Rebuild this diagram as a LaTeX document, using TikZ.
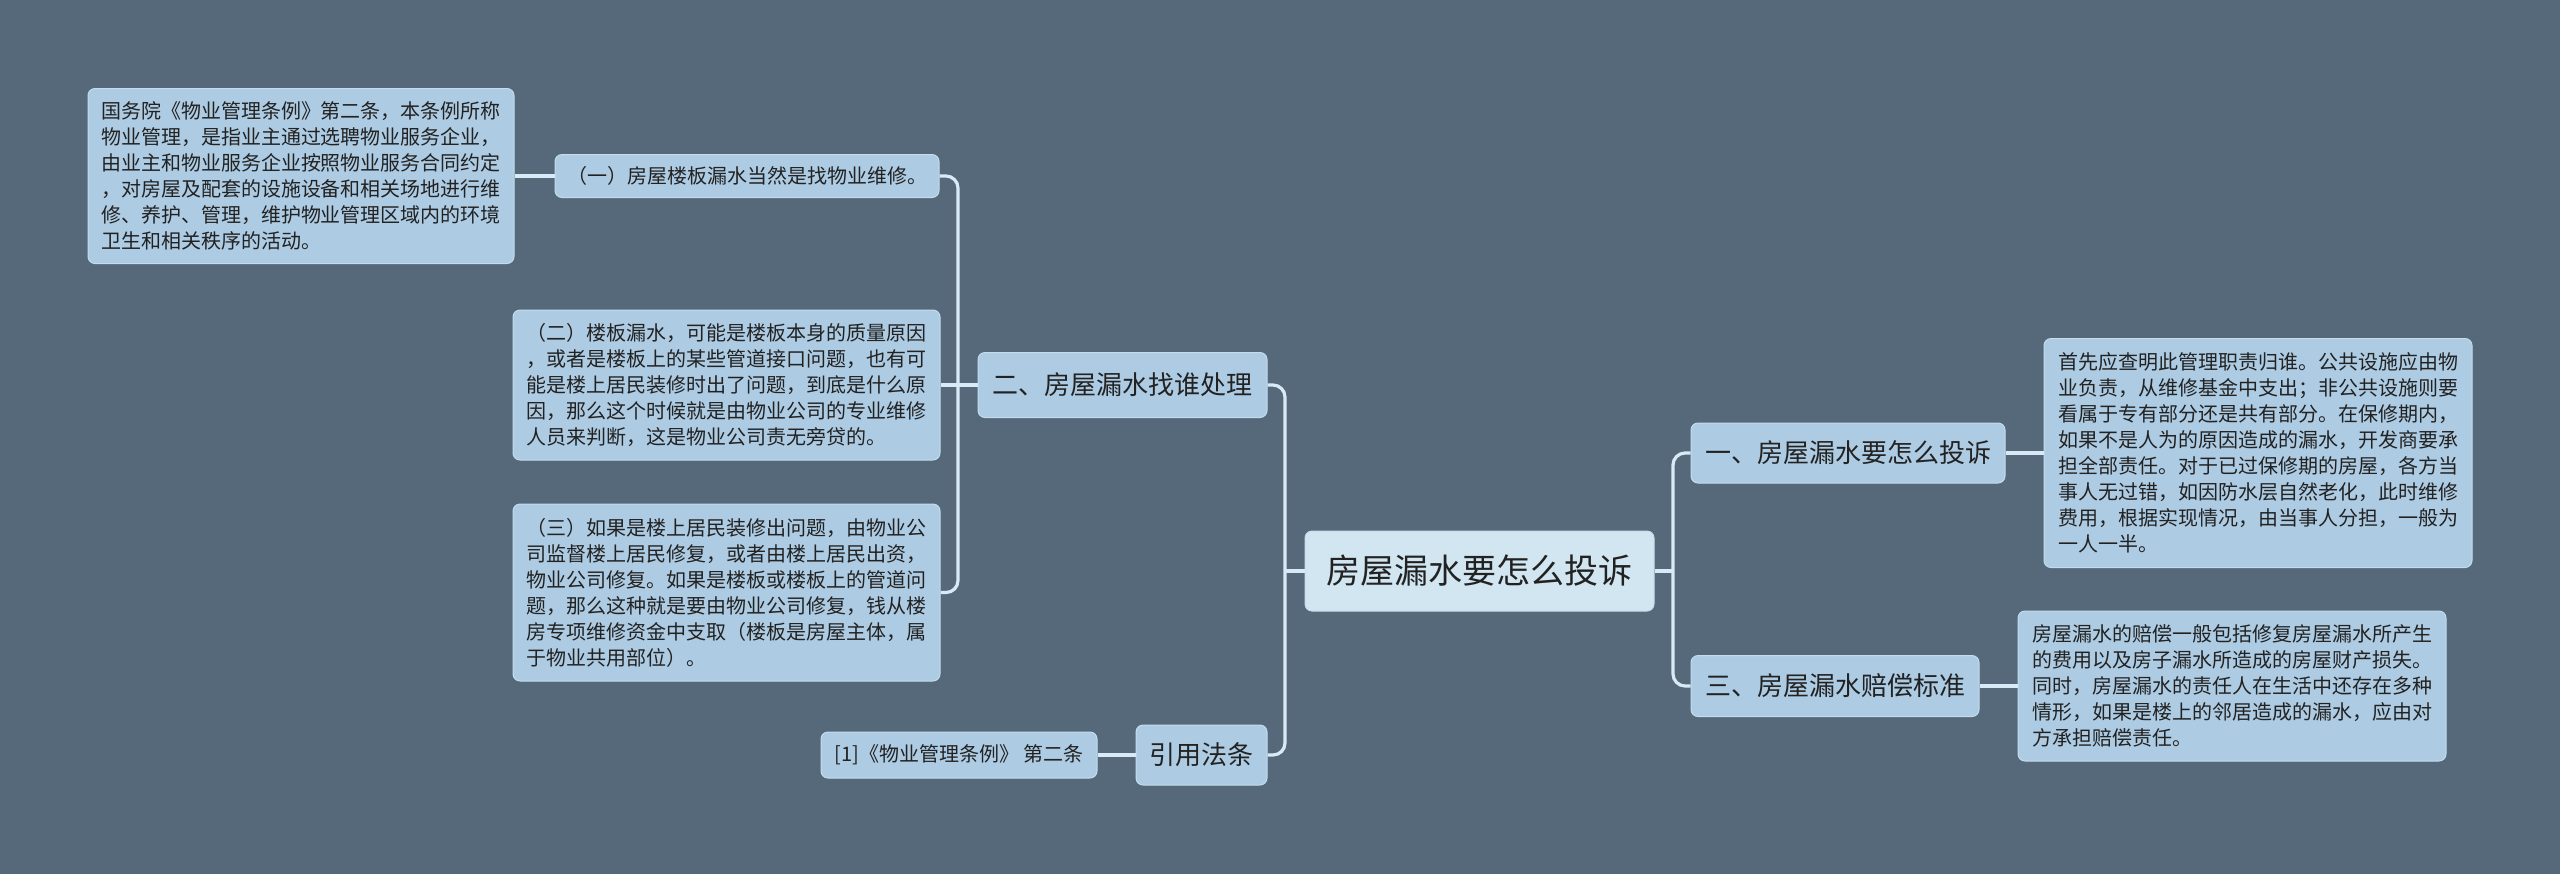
\documentclass[tikz,border=0pt]{standalone}
\usepackage{fontspec}
\setmainfont{Noto Sans CJK SC}
\definecolor{bgc}{HTML}{56697A}
\definecolor{nodefill}{HTML}{ADCBE2}
\definecolor{rootfill}{HTML}{D2E6F2}
\definecolor{boxline}{HTML}{C4DCEE}
\definecolor{connc}{HTML}{D8EAF6}
\definecolor{txt}{HTML}{222222}
\begin{document}
\begin{tikzpicture}[x=0.5pt,y=-0.5pt,
  box/.style={draw=boxline, line width=0.5pt, fill=nodefill, rounded corners=3.5pt, text=txt, inner sep=0pt, font=\fontsize{10}{13}\selectfont},
  para/.style={box, align=left, text width=200pt},
  head/.style={box, font=\fontsize{13}{15}\selectfont, align=center},
  rootbox/.style={box, fill=rootfill, font=\fontsize{17}{20}\selectfont, align=center},
  conn/.style={draw=connc, line width=1.6pt, rounded corners=6pt}]
\fill[bgc] (0,0) rectangle (2560,874);
\useasboundingbox (0,0) rectangle (2560,874);

% left side
\node[para, minimum width=213pt, minimum height=87.5pt] (A) at (301,176) {国务院《物业管理条例》第二条，本条例所称\\物业管理，是指业主通过选聘物业服务企业，\\由业主和物业服务企业按照物业服务合同约定\\，对房屋及配套的设施设备和相关场地进行维\\修、养护、管理，维护物业管理区域内的环境\\卫生和相关秩序的活动。};
\node[box, minimum width=192pt, minimum height=21.5pt] (q1) at (747,176) {（一）房屋楼板漏水当然是找物业维修。};
\node[para, minimum width=213.5pt, minimum height=75pt] (q2) at (726.5,385) {（二）楼板漏水，可能是楼板本身的质量原因\\，或者是楼板上的某些管道接口问题，也有可\\能是楼上居民装修时出了问题，到底是什么原\\因，那么这个时候就是由物业公司的专业维修\\人员来判断，这是物业公司责无旁贷的。};
\node[para, minimum width=213.5pt, minimum height=88.5pt] (q3) at (726.5,592.5) {（三）如果是楼上居民装修出问题，由物业公\\司监督楼上居民修复，或者由楼上居民出资，\\物业公司修复。如果是楼板或楼板上的管道问\\题，那么这种就是要由物业公司修复，钱从楼\\房专项维修资金中支取（楼板是房屋主体，属\\于物业共用部位）。};
\node[head, minimum width=144.5pt, minimum height=32.5pt] (er) at (1122.5,385) {二、房屋漏水找谁处理};
\node[head, minimum width=65.5pt, minimum height=30pt] (yy) at (1201.5,755) {引用法条};
\node[box, minimum width=138pt, minimum height=23pt] (ref) at (959,755) {[1]《物业管理条例》 第二条};

% root
\node[rootbox, minimum width=174.5pt, minimum height=40pt] (root) at (1479.5,571) {房屋漏水要怎么投诉};

% right side
\node[head, minimum width=157pt, minimum height=30pt] (y1) at (1848,453) {一、房屋漏水要怎么投诉};
\node[head, minimum width=144pt, minimum height=30.5pt] (y3) at (1835,686) {三、房屋漏水赔偿标准};
\node[para, minimum width=214pt, minimum height=114.5pt] (t1) at (2258,453) {首先应查明此管理职责归谁。公共设施应由物\\业负责，从维修基金中支出；非公共设施则要\\看属于专有部分还是共有部分。在保修期内，\\如果不是人为的原因造成的漏水，开发商要承\\担全部责任。对于已过保修期的房屋，各方当\\事人无过错，如因防水层自然老化，此时维修\\费用，根据实现情况，由当事人分担，一般为\\一人一半。};
\node[para, minimum width=214pt, minimum height=75pt] (t3) at (2232,686) {房屋漏水的赔偿一般包括修复房屋漏水所产生\\的费用以及房子漏水所造成的房屋财产损失。\\同时，房屋漏水的责任人在生活中还存在多种\\情形，如果是楼上的邻居造成的漏水，应由对\\方承担赔偿责任。};

% trunks
\coordinate (tL) at (1285,571);
\coordinate (tE) at (958,385);
\coordinate (tR) at (1673,571);

% connectors
\draw[conn] (er.east) -| (tL) |- (yy.east);
\draw[conn] (root.west) -- (tL);
\draw[conn] (q1.east) -| (tE) |- (q3.east);
\draw[conn] (q2.east) -- (er.west);
\draw[conn] (A.east) -- (q1.west);
\draw[conn] (ref.east) -- (yy.west);
\draw[conn] (y1.west) -| (tR) |- (y3.west);
\draw[conn] (root.east) -- (tR);
\draw[conn] (y1.east) -- (t1.west);
\draw[conn] (y3.east) -- (t3.west);
\end{tikzpicture}
\end{document}
